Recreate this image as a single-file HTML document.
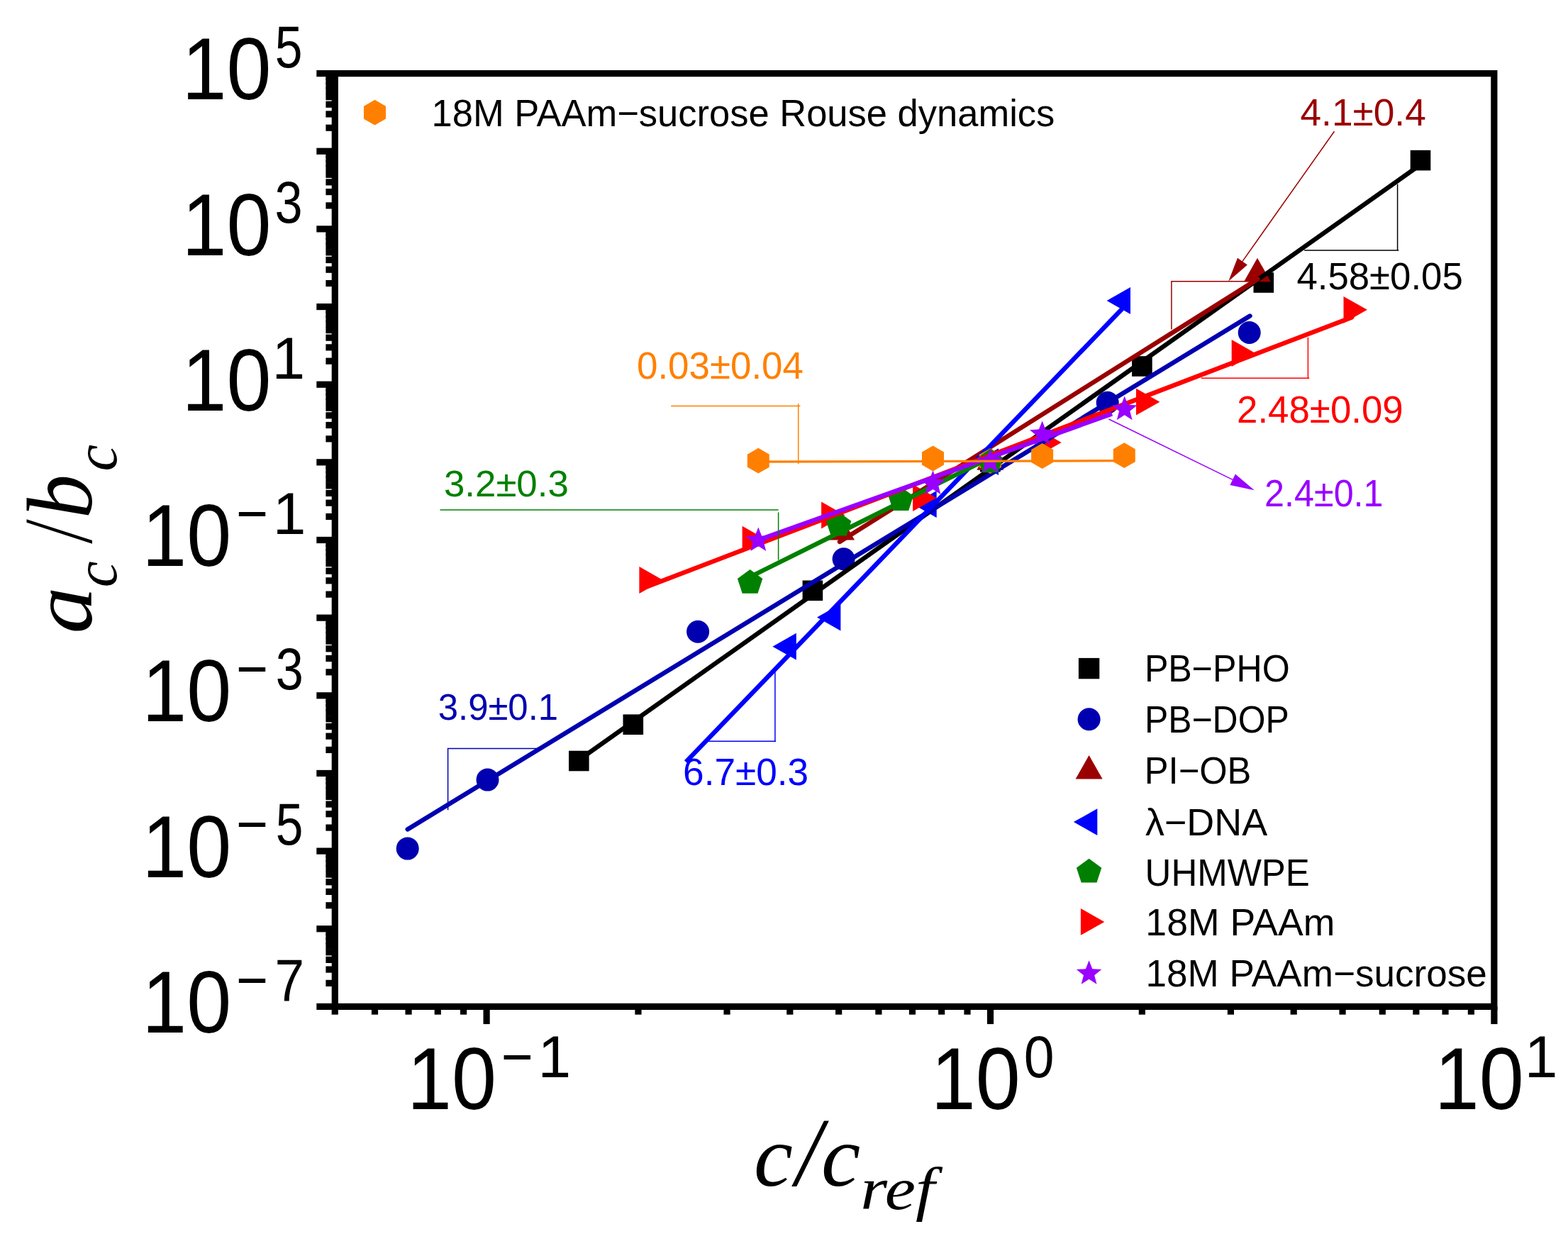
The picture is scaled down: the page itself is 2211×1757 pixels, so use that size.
<!DOCTYPE html>
<html lang="en"><head><meta charset="utf-8"><title>a_c/b_c versus c/c_ref</title>
<style>html,body{margin:0;padding:0;background:#fff;}svg{display:block;}</style></head>
<body>
<svg width="2211" height="1757" viewBox="0 0 2211 1757">
<rect x="0" y="0" width="2211" height="1757" fill="#fff"/>
<rect x="1988.7" y="211.8" width="28.6" height="28.6" fill="#000000"/>
<rect x="1767.5" y="384.2" width="28.6" height="28.6" fill="#000000"/>
<rect x="1596.1" y="502.2" width="28.6" height="28.6" fill="#000000"/>
<rect x="1382.0" y="636.9" width="28.6" height="28.6" fill="#000000"/>
<rect x="1131.6" y="818.5" width="28.6" height="28.6" fill="#000000"/>
<rect x="878.5" y="1007.4" width="28.6" height="28.6" fill="#000000"/>
<rect x="802.0" y="1058.7" width="28.6" height="28.6" fill="#000000"/>
<circle cx="1761.7" cy="469.0" r="16" fill="#0000B0"/>
<circle cx="1561.7" cy="567.7" r="16" fill="#0000B0"/>
<circle cx="1396.3" cy="651.2" r="16" fill="#0000B0"/>
<circle cx="1189.6" cy="788.2" r="16" fill="#0000B0"/>
<circle cx="984.1" cy="890.8" r="16" fill="#0000B0"/>
<circle cx="687.5" cy="1099.6" r="16" fill="#0000B0"/>
<circle cx="574.7" cy="1196.6" r="16" fill="#0000B0"/>
<polygon points="1773.0,363.8 1792.0,397.3 1754.0,397.3" fill="#9A0000"/>
<polygon points="1396.3,629.2 1415.3,662.7 1377.3,662.7" fill="#9A0000"/>
<polygon points="1186.0,727.9 1205.0,761.4 1167.0,761.4" fill="#9A0000"/>
<polygon points="1560.6,424.0 1594.0,405.1 1594.0,442.9" fill="#0000FF"/>
<polygon points="1374.6,651.2 1408.0,632.3 1408.0,670.1" fill="#0000FF"/>
<polygon points="1287.3,711.0 1320.7,692.1 1320.7,729.9" fill="#0000FF"/>
<polygon points="1152.0,870.5 1185.4,851.6 1185.4,889.4" fill="#0000FF"/>
<polygon points="1089.4,911.7 1122.8,892.8 1122.8,930.6" fill="#0000FF"/>
<polygon points="1927.9,436.8 1894.5,417.9 1894.5,455.7" fill="#FF0000"/>
<polygon points="1770.1,498.0 1736.7,479.1 1736.7,516.9" fill="#FF0000"/>
<polygon points="1635.4,566.7 1602.0,547.8 1602.0,585.6" fill="#FF0000"/>
<polygon points="1496.7,624.0 1463.3,605.1 1463.3,642.9" fill="#FF0000"/>
<polygon points="1320.5,702.0 1287.1,683.1 1287.1,720.9" fill="#FF0000"/>
<polygon points="1191.5,726.5 1158.1,707.6 1158.1,745.4" fill="#FF0000"/>
<polygon points="1080.0,760.7 1046.6,741.8 1046.6,779.6" fill="#FF0000"/>
<polygon points="934.8,818.0 901.4,799.1 901.4,836.9" fill="#FF0000"/>
<line x1="816.3" y1="1071.6" x2="2003.0" y2="232.2" stroke="#000000" stroke-width="6.4" stroke-linecap="round"/>
<line x1="574.7" y1="1169.4" x2="1762.5" y2="445.5" stroke="#0000B0" stroke-width="6.4" stroke-linecap="round"/>
<line x1="1184.0" y1="764.0" x2="1773.5" y2="393.5" stroke="#9A0000" stroke-width="6.4" stroke-linecap="round"/>
<line x1="967.2" y1="1074.4" x2="1582.3" y2="435.5" stroke="#0000FF" stroke-width="6.4" stroke-linecap="butt"/>
<polygon points="1585.3,624.3 1600.8,633.2 1600.8,651.2 1585.3,660.1 1569.8,651.2 1569.8,633.2" fill="#FF8000"/>
<polygon points="1469.6,625.1 1485.1,634.0 1485.1,652.0 1469.6,660.9 1454.1,652.0 1454.1,634.0" fill="#FF8000"/>
<polygon points="1396.3,632.1 1411.8,641.0 1411.8,659.0 1396.3,667.9 1380.8,659.0 1380.8,641.0" fill="#FF8000"/>
<polygon points="1315.5,628.6 1331.0,637.5 1331.0,655.5 1315.5,664.4 1300.0,655.5 1300.0,637.5" fill="#FF8000"/>
<polygon points="1069.3,631.8 1084.8,640.8 1084.8,658.7 1069.3,667.6 1053.8,658.7 1053.8,640.8" fill="#FF8000"/>
<polygon points="1396.3,632.6 1414.0,645.5 1407.2,666.2 1385.4,666.2 1378.6,645.5" fill="#008000"/>
<polygon points="1270.3,686.4 1288.0,699.3 1281.2,720.0 1259.4,720.0 1252.6,699.3" fill="#008000"/>
<polygon points="1182.6,721.9 1200.3,734.8 1193.5,755.5 1171.7,755.5 1164.9,734.8" fill="#008000"/>
<polygon points="1057.6,803.1 1075.3,816.0 1068.5,836.7 1046.7,836.7 1039.9,816.0" fill="#008000"/>
<line x1="1057.6" y1="813.5" x2="1396.3" y2="645.5" stroke="#008000" stroke-width="6.4" stroke-linecap="round"/>
<line x1="913.1" y1="826.9" x2="1906.2" y2="447.4" stroke="#FF0000" stroke-width="6.4" stroke-linecap="round"/>
<polygon points="1585.7,558.6 1590.4,570.7 1603.4,571.5 1593.3,579.7 1596.6,592.2 1585.7,585.2 1574.8,592.2 1578.1,579.7 1568.0,571.5 1581.0,570.7" fill="#9900FF"/>
<polygon points="1469.6,593.4 1474.3,605.5 1487.3,606.3 1477.2,614.5 1480.5,627.0 1469.6,620.0 1458.7,627.0 1462.0,614.5 1451.9,606.3 1464.9,605.5" fill="#9900FF"/>
<polygon points="1396.3,632.6 1401.0,644.7 1414.0,645.5 1403.9,653.7 1407.2,666.2 1396.3,659.2 1385.4,666.2 1388.7,653.7 1378.6,645.5 1391.6,644.7" fill="#9900FF"/>
<polygon points="1315.5,663.4 1320.2,675.5 1333.2,676.3 1323.1,684.5 1326.4,697.0 1315.5,690.0 1304.6,697.0 1307.9,684.5 1297.8,676.3 1310.8,675.5" fill="#9900FF"/>
<polygon points="1069.3,743.4 1074.0,755.5 1087.0,756.3 1076.9,764.5 1080.2,777.0 1069.3,770.0 1058.4,777.0 1061.7,764.5 1051.6,756.3 1064.6,755.5" fill="#9900FF"/>
<line x1="1069.3" y1="761.5" x2="1568.0" y2="583.5" stroke="#9900FF" stroke-width="6.4" stroke-linecap="butt"/>
<line x1="1069.3" y1="651.2" x2="1585.3" y2="649.7" stroke="#FF8000" stroke-width="3.3" stroke-linecap="butt"/>
<polyline points="946.2,572.5 1128.4,572.5" fill="none" stroke="#FF8000" stroke-width="1.5"/>
<polyline points="1125.7,569.2 1125.7,654.2" fill="none" stroke="#FF8000" stroke-width="1.5"/>
<polyline points="620.5,719.0 1097.6,719.0" fill="none" stroke="#008000" stroke-width="1.5"/>
<polyline points="1097.6,722.4 1097.6,789.7" fill="none" stroke="#008000" stroke-width="1.5"/>
<polyline points="1765.0,396.7 1651.9,396.7 1651.9,464.6" fill="none" stroke="#9A0000" stroke-width="1.5"/>
<polyline points="1970.6,259.6 1970.6,353.1" fill="none" stroke="#000000" stroke-width="1.5"/>
<polyline points="1839.2,353.1 1972.3,353.1" fill="none" stroke="#000000" stroke-width="1.5"/>
<polyline points="1844.4,475.7 1844.4,533.6" fill="none" stroke="#FF0000" stroke-width="1.5"/>
<polyline points="1693.7,533.2 1846.2,533.2" fill="none" stroke="#FF0000" stroke-width="1.5"/>
<polyline points="759.4,1055.5 631.6,1055.5 631.6,1142.2" fill="none" stroke="#0000B0" stroke-width="1.5"/>
<polyline points="1092.9,947.3 1092.9,1046.3" fill="none" stroke="#0000FF" stroke-width="1.5"/>
<polyline points="995.4,1045.3 1093.9,1045.3" fill="none" stroke="#0000FF" stroke-width="1.5"/>
<line x1="1881.5" y1="185.2" x2="1751.9" y2="368.6" stroke="#9A0000" stroke-width="1.5"/><polygon points="1732.3,396.4 1745.0,363.7 1758.9,373.5" fill="#9A0000"/>
<line x1="1563.5" y1="591.0" x2="1738.1" y2="676.3" stroke="#9900FF" stroke-width="1.5"/><polygon points="1768.7,691.2 1734.4,683.9 1741.9,668.6" fill="#9900FF"/>
<rect x="472.30" y="103.60" width="1634.55" height="1315.80" fill="none" stroke="#000" stroke-width="9.2"/>
<line x1="446.3" y1="1419.40" x2="472.3" y2="1419.40" stroke="#000" stroke-width="9.2"/>
<line x1="459.4" y1="1386.39" x2="472.3" y2="1386.39" stroke="#000" stroke-width="9.2"/>
<line x1="459.4" y1="1367.08" x2="472.3" y2="1367.08" stroke="#000" stroke-width="9.2"/>
<line x1="459.4" y1="1353.38" x2="472.3" y2="1353.38" stroke="#000" stroke-width="9.2"/>
<line x1="459.4" y1="1342.76" x2="472.3" y2="1342.76" stroke="#000" stroke-width="9.2"/>
<line x1="459.4" y1="1334.08" x2="472.3" y2="1334.08" stroke="#000" stroke-width="9.2"/>
<line x1="459.4" y1="1326.73" x2="472.3" y2="1326.73" stroke="#000" stroke-width="9.2"/>
<line x1="459.4" y1="1320.38" x2="472.3" y2="1320.38" stroke="#000" stroke-width="9.2"/>
<line x1="459.4" y1="1314.77" x2="472.3" y2="1314.77" stroke="#000" stroke-width="9.2"/>
<line x1="446.3" y1="1309.75" x2="472.3" y2="1309.75" stroke="#000" stroke-width="9.2"/>
<line x1="459.4" y1="1276.74" x2="472.3" y2="1276.74" stroke="#000" stroke-width="9.2"/>
<line x1="459.4" y1="1257.43" x2="472.3" y2="1257.43" stroke="#000" stroke-width="9.2"/>
<line x1="459.4" y1="1243.73" x2="472.3" y2="1243.73" stroke="#000" stroke-width="9.2"/>
<line x1="459.4" y1="1233.11" x2="472.3" y2="1233.11" stroke="#000" stroke-width="9.2"/>
<line x1="459.4" y1="1224.43" x2="472.3" y2="1224.43" stroke="#000" stroke-width="9.2"/>
<line x1="459.4" y1="1217.08" x2="472.3" y2="1217.08" stroke="#000" stroke-width="9.2"/>
<line x1="459.4" y1="1210.73" x2="472.3" y2="1210.73" stroke="#000" stroke-width="9.2"/>
<line x1="459.4" y1="1205.12" x2="472.3" y2="1205.12" stroke="#000" stroke-width="9.2"/>
<line x1="446.3" y1="1200.10" x2="472.3" y2="1200.10" stroke="#000" stroke-width="9.2"/>
<line x1="459.4" y1="1167.09" x2="472.3" y2="1167.09" stroke="#000" stroke-width="9.2"/>
<line x1="459.4" y1="1147.78" x2="472.3" y2="1147.78" stroke="#000" stroke-width="9.2"/>
<line x1="459.4" y1="1134.08" x2="472.3" y2="1134.08" stroke="#000" stroke-width="9.2"/>
<line x1="459.4" y1="1123.46" x2="472.3" y2="1123.46" stroke="#000" stroke-width="9.2"/>
<line x1="459.4" y1="1114.78" x2="472.3" y2="1114.78" stroke="#000" stroke-width="9.2"/>
<line x1="459.4" y1="1107.43" x2="472.3" y2="1107.43" stroke="#000" stroke-width="9.2"/>
<line x1="459.4" y1="1101.08" x2="472.3" y2="1101.08" stroke="#000" stroke-width="9.2"/>
<line x1="459.4" y1="1095.47" x2="472.3" y2="1095.47" stroke="#000" stroke-width="9.2"/>
<line x1="446.3" y1="1090.45" x2="472.3" y2="1090.45" stroke="#000" stroke-width="9.2"/>
<line x1="459.4" y1="1057.44" x2="472.3" y2="1057.44" stroke="#000" stroke-width="9.2"/>
<line x1="459.4" y1="1038.13" x2="472.3" y2="1038.13" stroke="#000" stroke-width="9.2"/>
<line x1="459.4" y1="1024.43" x2="472.3" y2="1024.43" stroke="#000" stroke-width="9.2"/>
<line x1="459.4" y1="1013.81" x2="472.3" y2="1013.81" stroke="#000" stroke-width="9.2"/>
<line x1="459.4" y1="1005.13" x2="472.3" y2="1005.13" stroke="#000" stroke-width="9.2"/>
<line x1="459.4" y1="997.78" x2="472.3" y2="997.78" stroke="#000" stroke-width="9.2"/>
<line x1="459.4" y1="991.43" x2="472.3" y2="991.43" stroke="#000" stroke-width="9.2"/>
<line x1="459.4" y1="985.82" x2="472.3" y2="985.82" stroke="#000" stroke-width="9.2"/>
<line x1="446.3" y1="980.80" x2="472.3" y2="980.80" stroke="#000" stroke-width="9.2"/>
<line x1="459.4" y1="947.79" x2="472.3" y2="947.79" stroke="#000" stroke-width="9.2"/>
<line x1="459.4" y1="928.48" x2="472.3" y2="928.48" stroke="#000" stroke-width="9.2"/>
<line x1="459.4" y1="914.78" x2="472.3" y2="914.78" stroke="#000" stroke-width="9.2"/>
<line x1="459.4" y1="904.16" x2="472.3" y2="904.16" stroke="#000" stroke-width="9.2"/>
<line x1="459.4" y1="895.48" x2="472.3" y2="895.48" stroke="#000" stroke-width="9.2"/>
<line x1="459.4" y1="888.13" x2="472.3" y2="888.13" stroke="#000" stroke-width="9.2"/>
<line x1="459.4" y1="881.78" x2="472.3" y2="881.78" stroke="#000" stroke-width="9.2"/>
<line x1="459.4" y1="876.17" x2="472.3" y2="876.17" stroke="#000" stroke-width="9.2"/>
<line x1="446.3" y1="871.15" x2="472.3" y2="871.15" stroke="#000" stroke-width="9.2"/>
<line x1="459.4" y1="838.14" x2="472.3" y2="838.14" stroke="#000" stroke-width="9.2"/>
<line x1="459.4" y1="818.83" x2="472.3" y2="818.83" stroke="#000" stroke-width="9.2"/>
<line x1="459.4" y1="805.13" x2="472.3" y2="805.13" stroke="#000" stroke-width="9.2"/>
<line x1="459.4" y1="794.51" x2="472.3" y2="794.51" stroke="#000" stroke-width="9.2"/>
<line x1="459.4" y1="785.83" x2="472.3" y2="785.83" stroke="#000" stroke-width="9.2"/>
<line x1="459.4" y1="778.48" x2="472.3" y2="778.48" stroke="#000" stroke-width="9.2"/>
<line x1="459.4" y1="772.13" x2="472.3" y2="772.13" stroke="#000" stroke-width="9.2"/>
<line x1="459.4" y1="766.52" x2="472.3" y2="766.52" stroke="#000" stroke-width="9.2"/>
<line x1="446.3" y1="761.50" x2="472.3" y2="761.50" stroke="#000" stroke-width="9.2"/>
<line x1="459.4" y1="728.49" x2="472.3" y2="728.49" stroke="#000" stroke-width="9.2"/>
<line x1="459.4" y1="709.18" x2="472.3" y2="709.18" stroke="#000" stroke-width="9.2"/>
<line x1="459.4" y1="695.48" x2="472.3" y2="695.48" stroke="#000" stroke-width="9.2"/>
<line x1="459.4" y1="684.86" x2="472.3" y2="684.86" stroke="#000" stroke-width="9.2"/>
<line x1="459.4" y1="676.18" x2="472.3" y2="676.18" stroke="#000" stroke-width="9.2"/>
<line x1="459.4" y1="668.83" x2="472.3" y2="668.83" stroke="#000" stroke-width="9.2"/>
<line x1="459.4" y1="662.48" x2="472.3" y2="662.48" stroke="#000" stroke-width="9.2"/>
<line x1="459.4" y1="656.87" x2="472.3" y2="656.87" stroke="#000" stroke-width="9.2"/>
<line x1="446.3" y1="651.85" x2="472.3" y2="651.85" stroke="#000" stroke-width="9.2"/>
<line x1="459.4" y1="618.84" x2="472.3" y2="618.84" stroke="#000" stroke-width="9.2"/>
<line x1="459.4" y1="599.53" x2="472.3" y2="599.53" stroke="#000" stroke-width="9.2"/>
<line x1="459.4" y1="585.83" x2="472.3" y2="585.83" stroke="#000" stroke-width="9.2"/>
<line x1="459.4" y1="575.21" x2="472.3" y2="575.21" stroke="#000" stroke-width="9.2"/>
<line x1="459.4" y1="566.53" x2="472.3" y2="566.53" stroke="#000" stroke-width="9.2"/>
<line x1="459.4" y1="559.18" x2="472.3" y2="559.18" stroke="#000" stroke-width="9.2"/>
<line x1="459.4" y1="552.83" x2="472.3" y2="552.83" stroke="#000" stroke-width="9.2"/>
<line x1="459.4" y1="547.22" x2="472.3" y2="547.22" stroke="#000" stroke-width="9.2"/>
<line x1="446.3" y1="542.20" x2="472.3" y2="542.20" stroke="#000" stroke-width="9.2"/>
<line x1="459.4" y1="509.19" x2="472.3" y2="509.19" stroke="#000" stroke-width="9.2"/>
<line x1="459.4" y1="489.88" x2="472.3" y2="489.88" stroke="#000" stroke-width="9.2"/>
<line x1="459.4" y1="476.18" x2="472.3" y2="476.18" stroke="#000" stroke-width="9.2"/>
<line x1="459.4" y1="465.56" x2="472.3" y2="465.56" stroke="#000" stroke-width="9.2"/>
<line x1="459.4" y1="456.88" x2="472.3" y2="456.88" stroke="#000" stroke-width="9.2"/>
<line x1="459.4" y1="449.53" x2="472.3" y2="449.53" stroke="#000" stroke-width="9.2"/>
<line x1="459.4" y1="443.18" x2="472.3" y2="443.18" stroke="#000" stroke-width="9.2"/>
<line x1="459.4" y1="437.57" x2="472.3" y2="437.57" stroke="#000" stroke-width="9.2"/>
<line x1="446.3" y1="432.55" x2="472.3" y2="432.55" stroke="#000" stroke-width="9.2"/>
<line x1="459.4" y1="399.54" x2="472.3" y2="399.54" stroke="#000" stroke-width="9.2"/>
<line x1="459.4" y1="380.23" x2="472.3" y2="380.23" stroke="#000" stroke-width="9.2"/>
<line x1="459.4" y1="366.53" x2="472.3" y2="366.53" stroke="#000" stroke-width="9.2"/>
<line x1="459.4" y1="355.91" x2="472.3" y2="355.91" stroke="#000" stroke-width="9.2"/>
<line x1="459.4" y1="347.23" x2="472.3" y2="347.23" stroke="#000" stroke-width="9.2"/>
<line x1="459.4" y1="339.88" x2="472.3" y2="339.88" stroke="#000" stroke-width="9.2"/>
<line x1="459.4" y1="333.53" x2="472.3" y2="333.53" stroke="#000" stroke-width="9.2"/>
<line x1="459.4" y1="327.92" x2="472.3" y2="327.92" stroke="#000" stroke-width="9.2"/>
<line x1="446.3" y1="322.90" x2="472.3" y2="322.90" stroke="#000" stroke-width="9.2"/>
<line x1="459.4" y1="289.89" x2="472.3" y2="289.89" stroke="#000" stroke-width="9.2"/>
<line x1="459.4" y1="270.58" x2="472.3" y2="270.58" stroke="#000" stroke-width="9.2"/>
<line x1="459.4" y1="256.88" x2="472.3" y2="256.88" stroke="#000" stroke-width="9.2"/>
<line x1="459.4" y1="246.26" x2="472.3" y2="246.26" stroke="#000" stroke-width="9.2"/>
<line x1="459.4" y1="237.58" x2="472.3" y2="237.58" stroke="#000" stroke-width="9.2"/>
<line x1="459.4" y1="230.23" x2="472.3" y2="230.23" stroke="#000" stroke-width="9.2"/>
<line x1="459.4" y1="223.88" x2="472.3" y2="223.88" stroke="#000" stroke-width="9.2"/>
<line x1="459.4" y1="218.27" x2="472.3" y2="218.27" stroke="#000" stroke-width="9.2"/>
<line x1="446.3" y1="213.25" x2="472.3" y2="213.25" stroke="#000" stroke-width="9.2"/>
<line x1="459.4" y1="180.24" x2="472.3" y2="180.24" stroke="#000" stroke-width="9.2"/>
<line x1="459.4" y1="160.93" x2="472.3" y2="160.93" stroke="#000" stroke-width="9.2"/>
<line x1="459.4" y1="147.23" x2="472.3" y2="147.23" stroke="#000" stroke-width="9.2"/>
<line x1="459.4" y1="136.61" x2="472.3" y2="136.61" stroke="#000" stroke-width="9.2"/>
<line x1="459.4" y1="127.93" x2="472.3" y2="127.93" stroke="#000" stroke-width="9.2"/>
<line x1="459.4" y1="120.58" x2="472.3" y2="120.58" stroke="#000" stroke-width="9.2"/>
<line x1="459.4" y1="114.23" x2="472.3" y2="114.23" stroke="#000" stroke-width="9.2"/>
<line x1="459.4" y1="108.62" x2="472.3" y2="108.62" stroke="#000" stroke-width="9.2"/>
<line x1="446.3" y1="103.60" x2="472.3" y2="103.60" stroke="#000" stroke-width="9.2"/>
<line x1="686.10" y1="1419.4" x2="686.10" y2="1444.1" stroke="#000" stroke-width="9.2"/>
<line x1="1396.50" y1="1419.4" x2="1396.50" y2="1444.1" stroke="#000" stroke-width="9.2"/>
<line x1="2106.90" y1="1419.4" x2="2106.90" y2="1444.1" stroke="#000" stroke-width="9.2"/>
<line x1="472.25" y1="1419.4" x2="472.25" y2="1430.7" stroke="#000" stroke-width="9.2"/>
<line x1="528.50" y1="1419.4" x2="528.50" y2="1430.7" stroke="#000" stroke-width="9.2"/>
<line x1="576.06" y1="1419.4" x2="576.06" y2="1430.7" stroke="#000" stroke-width="9.2"/>
<line x1="617.26" y1="1419.4" x2="617.26" y2="1430.7" stroke="#000" stroke-width="9.2"/>
<line x1="653.59" y1="1419.4" x2="653.59" y2="1430.7" stroke="#000" stroke-width="9.2"/>
<line x1="899.95" y1="1419.4" x2="899.95" y2="1430.7" stroke="#000" stroke-width="9.2"/>
<line x1="1025.05" y1="1419.4" x2="1025.05" y2="1430.7" stroke="#000" stroke-width="9.2"/>
<line x1="1113.80" y1="1419.4" x2="1113.80" y2="1430.7" stroke="#000" stroke-width="9.2"/>
<line x1="1182.65" y1="1419.4" x2="1182.65" y2="1430.7" stroke="#000" stroke-width="9.2"/>
<line x1="1238.90" y1="1419.4" x2="1238.90" y2="1430.7" stroke="#000" stroke-width="9.2"/>
<line x1="1286.46" y1="1419.4" x2="1286.46" y2="1430.7" stroke="#000" stroke-width="9.2"/>
<line x1="1327.66" y1="1419.4" x2="1327.66" y2="1430.7" stroke="#000" stroke-width="9.2"/>
<line x1="1363.99" y1="1419.4" x2="1363.99" y2="1430.7" stroke="#000" stroke-width="9.2"/>
<line x1="1610.35" y1="1419.4" x2="1610.35" y2="1430.7" stroke="#000" stroke-width="9.2"/>
<line x1="1735.45" y1="1419.4" x2="1735.45" y2="1430.7" stroke="#000" stroke-width="9.2"/>
<line x1="1824.20" y1="1419.4" x2="1824.20" y2="1430.7" stroke="#000" stroke-width="9.2"/>
<line x1="1893.05" y1="1419.4" x2="1893.05" y2="1430.7" stroke="#000" stroke-width="9.2"/>
<line x1="1949.30" y1="1419.4" x2="1949.30" y2="1430.7" stroke="#000" stroke-width="9.2"/>
<line x1="1996.86" y1="1419.4" x2="1996.86" y2="1430.7" stroke="#000" stroke-width="9.2"/>
<line x1="2038.06" y1="1419.4" x2="2038.06" y2="1430.7" stroke="#000" stroke-width="9.2"/>
<line x1="2074.39" y1="1419.4" x2="2074.39" y2="1430.7" stroke="#000" stroke-width="9.2"/>
<text transform="translate(256.52,140.20) scale(0.9092,1)" font-family='"Liberation Sans", sans-serif' font-size="124.59" fill="#000">10</text>
<text transform="translate(387.63,94.90) scale(0.8291,1)" font-family='"Liberation Sans", sans-serif' font-size="83.91" fill="#000">5</text>
<text transform="translate(256.52,359.50) scale(0.9092,1)" font-family='"Liberation Sans", sans-serif' font-size="124.59" fill="#000">10</text>
<text transform="translate(387.61,314.20) scale(0.8365,1)" font-family='"Liberation Sans", sans-serif' font-size="83.91" fill="#000">3</text>
<text transform="translate(256.52,578.80) scale(0.9092,1)" font-family='"Liberation Sans", sans-serif' font-size="124.59" fill="#000">10</text>
<text transform="translate(383.56,533.50) scale(1.0000,1)" font-family='"Liberation Sans", sans-serif' font-size="83.91" fill="#000">1</text>
<text transform="translate(200.22,798.10) scale(0.9092,1)" font-family='"Liberation Sans", sans-serif' font-size="124.59" fill="#000">10</text>
<text transform="translate(332.99,752.80) scale(0.9176,1)" font-family='"Liberation Sans", sans-serif' font-size="83.91" fill="#000">−</text>
<text transform="translate(384.76,752.80) scale(1.0000,1)" font-family='"Liberation Sans", sans-serif' font-size="83.91" fill="#000">1</text>
<text transform="translate(200.22,1017.40) scale(0.9092,1)" font-family='"Liberation Sans", sans-serif' font-size="124.59" fill="#000">10</text>
<text transform="translate(332.99,972.10) scale(0.9176,1)" font-family='"Liberation Sans", sans-serif' font-size="83.91" fill="#000">−</text>
<text transform="translate(388.81,972.10) scale(0.8365,1)" font-family='"Liberation Sans", sans-serif' font-size="83.91" fill="#000">3</text>
<text transform="translate(200.22,1236.70) scale(0.9092,1)" font-family='"Liberation Sans", sans-serif' font-size="124.59" fill="#000">10</text>
<text transform="translate(332.99,1191.40) scale(0.9176,1)" font-family='"Liberation Sans", sans-serif' font-size="83.91" fill="#000">−</text>
<text transform="translate(388.83,1191.40) scale(0.8291,1)" font-family='"Liberation Sans", sans-serif' font-size="83.91" fill="#000">5</text>
<text transform="translate(200.22,1456.00) scale(0.9092,1)" font-family='"Liberation Sans", sans-serif' font-size="124.59" fill="#000">10</text>
<text transform="translate(332.99,1410.70) scale(0.9176,1)" font-family='"Liberation Sans", sans-serif' font-size="83.91" fill="#000">−</text>
<text transform="translate(387.50,1410.70) scale(0.8898,1)" font-family='"Liberation Sans", sans-serif' font-size="83.91" fill="#000">7</text>
<text transform="translate(573.92,1564.00) scale(0.9092,1)" font-family='"Liberation Sans", sans-serif' font-size="124.59" fill="#000">10</text>
<text transform="translate(706.69,1518.70) scale(0.9176,1)" font-family='"Liberation Sans", sans-serif' font-size="83.91" fill="#000">−</text>
<text transform="translate(758.46,1518.70) scale(1.0000,1)" font-family='"Liberation Sans", sans-serif' font-size="83.91" fill="#000">1</text>
<text transform="translate(1312.82,1564.00) scale(0.9092,1)" font-family='"Liberation Sans", sans-serif' font-size="124.59" fill="#000">10</text>
<text transform="translate(1443.69,1518.70) scale(0.9176,1)" font-family='"Liberation Sans", sans-serif' font-size="83.91" fill="#000">0</text>
<text transform="translate(2022.82,1564.00) scale(0.9092,1)" font-family='"Liberation Sans", sans-serif' font-size="124.59" fill="#000">10</text>
<text transform="translate(2149.86,1518.70) scale(1.0000,1)" font-family='"Liberation Sans", sans-serif' font-size="83.91" fill="#000">1</text>
<text transform="translate(608.62,177.80) scale(0.9847,1)" font-family='"Liberation Sans", sans-serif' font-size="53.33" fill="#000">18M PAAm−sucrose Rouse dynamics</text>
<polygon points="528.5,140.8 544.0,149.8 544.0,167.6 528.5,176.6 513.0,167.7 513.0,149.8" fill="#FF8000"/>
<rect x="1520.9" y="927.9" width="29.4" height="29.4" fill="#000000"/>
<circle cx="1535.6" cy="1014.3" r="16" fill="#0000B0"/>
<polygon points="1535.6,1065.0 1554.6,1098.5 1516.6,1098.5" fill="#9A0000"/>
<polygon points="1513.9,1159.1 1547.3,1140.2 1547.3,1178.0" fill="#0000FF"/>
<polygon points="1535.6,1210.8 1553.3,1223.7 1546.5,1244.4 1524.7,1244.4 1517.9,1223.7" fill="#008000"/>
<polygon points="1557.3,1299.9 1523.9,1281.0 1523.9,1318.8" fill="#FF0000"/>
<polygon points="1535.6,1354.2 1540.3,1366.3 1553.3,1367.1 1543.2,1375.3 1546.5,1387.8 1535.6,1380.8 1524.7,1387.8 1528.0,1375.3 1517.9,1367.1 1530.9,1366.3" fill="#9900FF"/>
<text transform="translate(1613.88,961.30) scale(0.9460,1)" font-family='"Liberation Sans", sans-serif' font-size="53.05" fill="#000">PB−PHO</text>
<text transform="translate(1613.90,1032.90) scale(0.9409,1)" font-family='"Liberation Sans", sans-serif' font-size="53.05" fill="#000">PB−DOP</text>
<text transform="translate(1613.85,1105.40) scale(0.9539,1)" font-family='"Liberation Sans", sans-serif' font-size="53.05" fill="#000">PI−OB</text>
<text transform="translate(1614.90,1177.90) scale(1.0161,1)" font-family='"Liberation Sans", sans-serif' font-size="53.05" fill="#000">λ−DNA</text>
<text transform="translate(1614.61,1248.80) scale(0.9614,1)" font-family='"Liberation Sans", sans-serif' font-size="53.05" fill="#000">UHMWPE</text>
<text transform="translate(1615.35,1318.80) scale(1.0105,1)" font-family='"Liberation Sans", sans-serif' font-size="53.05" fill="#000">18M PAAm</text>
<text transform="translate(1615.38,1391.30) scale(1.0008,1)" font-family='"Liberation Sans", sans-serif' font-size="53.05" fill="#000">18M PAAm−sucrose</text>
<text transform="translate(1833.47,176.80) scale(0.9884,1)" font-family='"Liberation Sans", sans-serif' font-size="53.90" fill="#9A0000">4.1±0.4</text>
<text transform="translate(1828.38,407.90) scale(0.9794,1)" font-family='"Liberation Sans", sans-serif' font-size="53.90" fill="#000000">4.58±0.05</text>
<text transform="translate(1744.02,596.40) scale(0.9989,1)" font-family='"Liberation Sans", sans-serif' font-size="52.91" fill="#FF0000">2.48±0.09</text>
<text transform="translate(1783.04,714.40) scale(0.9516,1)" font-family='"Liberation Sans", sans-serif' font-size="52.91" fill="#9900FF">2.4±0.1</text>
<text transform="translate(897.95,534.00) scale(0.9717,1)" font-family='"Liberation Sans", sans-serif' font-size="54.47" fill="#FF8000">0.03±0.04</text>
<text transform="translate(625.95,699.50) scale(1.0068,1)" font-family='"Liberation Sans", sans-serif' font-size="52.48" fill="#008000">3.2±0.3</text>
<text transform="translate(617.71,1014.80) scale(0.9667,1)" font-family='"Liberation Sans", sans-serif' font-size="52.62" fill="#0000B0">3.9±0.1</text>
<text transform="translate(963.11,1107.40) scale(1.0052,1)" font-family='"Liberation Sans", sans-serif' font-size="52.91" fill="#0000FF">6.7±0.3</text>
<text transform="translate(1063.07,1672.00) scale(1.0022,1)" font-family='"Liberation Serif", serif' font-size="123.46" font-style="italic" fill="#000">c</text>
<text transform="translate(1122.37,1672.00) scale(0.9494,1)" font-family='"Liberation Serif", serif' font-size="138.72" font-style="italic" fill="#000">/</text>
<text transform="translate(1158.06,1672.00) scale(1.0080,1)" font-family='"Liberation Serif", serif' font-size="123.46" font-style="italic" fill="#000">c</text>
<text transform="translate(1213.35,1705.40) scale(1.1444,1)" font-family='"Liberation Serif", serif' font-size="85.15" font-style="italic" fill="#000">ref</text>
<text transform="rotate(-90) translate(-893.57,129.00) scale(1.0816,1)" font-family='"Liberation Serif", serif' font-size="122.22" font-style="italic" fill="#000">a</text>
<text transform="rotate(-90) translate(-828.30,163.70) scale(0.9902,1)" font-family='"Liberation Serif", serif' font-size="84.03" font-style="italic" fill="#000">c</text>
<text transform="rotate(-90) translate(-762.85,129.00) scale(0.6249,1)" font-family='"Liberation Serif", serif' font-size="138.27" font-style="italic" fill="#000">/</text>
<text transform="rotate(-90) translate(-731.08,129.00) scale(0.9404,1)" font-family='"Liberation Serif", serif' font-size="132.12" font-style="italic" fill="#000">b</text>
<text transform="rotate(-90) translate(-664.62,163.70) scale(1.0071,1)" font-family='"Liberation Serif", serif' font-size="84.03" font-style="italic" fill="#000">c</text>
</svg>
</body></html>
